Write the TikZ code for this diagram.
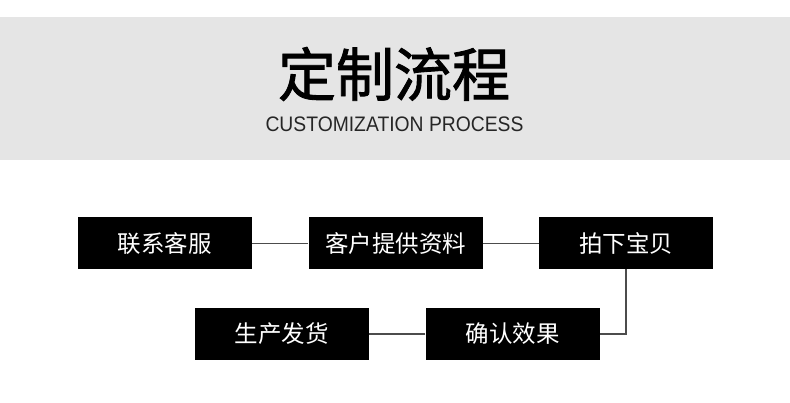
\documentclass[tikz,border=0pt]{standalone}
\usepackage{fontspec}
\usepackage{tikz}
\newfontfamily\cjk{Noto Sans CJK SC}
\newfontfamily\cjktitle{Noto Sans CJK SC}[FakeBold=1.5]
\newfontfamily\subfont{Liberation Sans}[FakeStretch=0.92]

\begin{document}
\begin{tikzpicture}[x=1pt, y=-1pt,
        stepbox/.style={fill=black, text=white, minimum width=174pt, minimum height=52pt,
            inner sep=0pt, font=\cjk\fontsize{23.5}{23.5}\selectfont},
        link/.style={draw=black!70, line width=1.4pt}]
                \useasboundingbox (0,0) rectangle (790,403);
                \fill[black!10] (0,17) rectangle (790,160);

                \node (title) at (394,74) {\cjktitle\fontsize{58}{58}\selectfont 定制流程};
                \node[text=black!85] (subtitle) at (394.5,124) {\subfont\fontsize{21}{21}\selectfont CUSTOMIZATION PROCESS};

                \node[stepbox] (contact) at (164.7,243.3) {联系客服};
                \node[stepbox] (info) at (395.5,243.3) {客户提供资料};
                \node[stepbox] (order) at (626,243.3) {拍下宝贝};
                \node[stepbox] (confirm) at (512.5,334) {确认效果};
                \node[stepbox] (ship) at (281.7,334) {生产发货};

                \draw[link] (contact) -- (info);
                \draw[link] (info) -- (order);
                \draw[link] (order.south) |- (confirm.east);
                \draw[link] (confirm) -- (ship);
\end{tikzpicture}
\end{document}
